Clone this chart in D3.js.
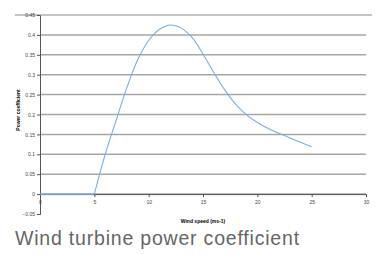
<!DOCTYPE html>
<html>
<head>
<meta charset="utf-8">
<script src="https://cdn.jsdelivr.net/npm/d3@7"></script>
<style>
  body { margin: 0; background: #fff; }
  svg { display: block; font-family: "Liberation Sans", Arial, sans-serif; }
</style>
</head>
<body>
<svg id="chart" width="380" height="254"></svg>
<script>
// wind speed (m/s) vs power coefficient
const speeds = [0, 1, 2, 3, 4, 5, 6, 7, 8, 9, 10, 11, 12, 13, 14, 15, 16, 17, 18, 19, 20, 21, 22, 23, 24, 25];
const cp = [0, 0, 0, 0, 0, 0, 0.1, 0.185, 0.268, 0.338, 0.386, 0.414, 0.425, 0.417, 0.393, 0.352, 0.305, 0.262, 0.226, 0.199, 0.18, 0.165, 0.153, 0.141, 0.13, 0.119];
const yTicks = [-0.05, 0, 0.05, 0.1, 0.15, 0.2, 0.25, 0.3, 0.35, 0.4, 0.45];
const xTicks = [0, 5, 10, 15, 20, 25, 30];

const svg = d3.select('#chart');
const margin = { left: 40, top: 15 };
const w = 326, h = 199;

const x = d3.scaleLinear().domain([0, 30]).range([margin.left, margin.left + w]);
const y = d3.scaleLinear().domain([-0.05, 0.45]).range([margin.top + h, margin.top]);

// top border
svg.append('line')
  .attr('x1', 15).attr('x2', 372)
  .attr('y1', y(0.45)).attr('y2', y(0.45))
  .attr('stroke', '#888').attr('stroke-width', 1);

// gridlines
svg.append('g')
  .selectAll('line')
  .data(yTicks.filter(d => d > -0.05 && d < 0.45))
  .enter()
  .append('line')
  .attr('x1', x(0)).attr('x2', x(30))
  .attr('y1', d => y(d)).attr('y2', d => y(d))
  .attr('stroke', '#a6a6a6').attr('stroke-width', 1.5);

// axes
const yAxis = svg.append('g')
  .attr('transform', `translate(${x(0)},0)`)
  .call(d3.axisLeft(y).tickValues(yTicks).tickSize(3).tickFormat(d3.format('')));

const xAxis = svg.append('g')
  .attr('transform', `translate(0,${y(0)})`)
  .call(d3.axisBottom(x).tickValues(xTicks).tickSize(3).tickSizeOuter(0));

[yAxis, xAxis].forEach(a => {
  a.select('.domain').attr('stroke', '#555');
  a.selectAll('.tick line').attr('stroke', '#555');
  a.selectAll('text').attr('fill', '#444').style('font-size', '5px');
});
yAxis.selectAll('text').attr('x', -5);
xAxis.selectAll('text').attr('dy', '0.8em');

// curve: flat part drawn straight, rising part smoothed
const pts = speeds.map((s, i) => [x(s), y(cp[i])]);
const start = speeds.indexOf(5);

svg.append('path')
  .attr('d', d3.line()(pts.slice(0, start + 1)))
  .attr('fill', 'none')
  .attr('stroke', '#7aaee0')
  .attr('stroke-width', 1.1);

svg.append('path')
  .attr('d', d3.line().curve(d3.curveCatmullRom.alpha(0.5))(pts.slice(start)))
  .attr('fill', 'none')
  .attr('stroke', '#7aaee0')
  .attr('stroke-width', 1.1);

// axis titles
svg.append('text')
  .attr('transform', `translate(20,${110}) rotate(-90)`)
  .attr('text-anchor', 'middle')
  .style('font-size', '5px')
  .style('font-weight', 'bold')
  .text('Power coefficient');

svg.append('text')
  .attr('x', 203)
  .attr('y', 223)
  .attr('text-anchor', 'middle')
  .style('font-size', '5px')
  .style('font-weight', 'bold')
  .text('Wind speed (ms-1)');

// caption
svg.append('text')
  .attr('x', 15)
  .attr('y', 245)
  .attr('fill', '#666')
  .style('font-size', '19.5px')
  .style('letter-spacing', '0.8px')
  .text('Wind turbine power coefficient');
</script>
</body>
</html>
